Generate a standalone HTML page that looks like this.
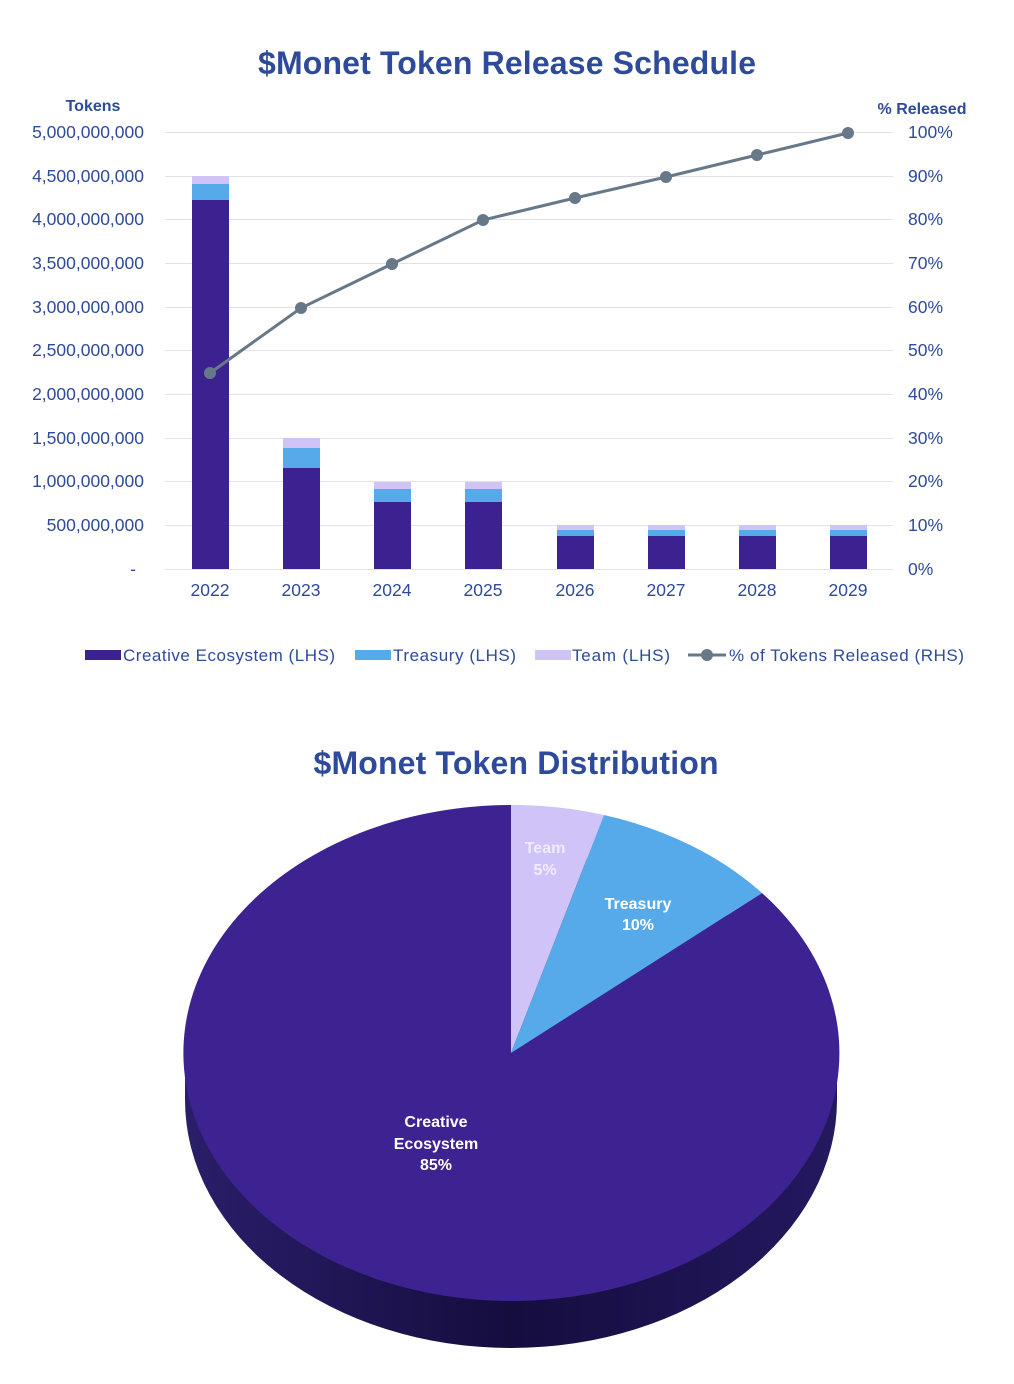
<!DOCTYPE html>
<html><head><style>body{margin:0;background:#fff}svg{display:block}text{font-family:"Liberation Sans",sans-serif}</style></head>
<body>
<svg width="1014" height="1384" viewBox="0 0 1014 1384">
<defs>
<linearGradient id="side" x1="0" x2="1" y1="0" y2="0"><stop offset="0" stop-color="#2a1e6a"/><stop offset="0.5" stop-color="#150d3e"/><stop offset="1" stop-color="#241860"/></linearGradient>
</defs>
<text x="507" y="74" text-anchor="middle" font-size="32" font-weight="bold" fill="#2e4a9a" textLength="498">$Monet Token Release Schedule</text>
<text x="93" y="111" text-anchor="middle" font-size="16" font-weight="bold" fill="#2e4a9a">Tokens</text>
<text x="922" y="114" text-anchor="middle" font-size="16" font-weight="bold" fill="#2e4a9a">% Released</text>
<g stroke="#e2e2e8" stroke-width="1">
<line x1="165" x2="893" y1="132.5" y2="132.5"/><line x1="165" x2="893" y1="176.5" y2="176.5"/><line x1="165" x2="893" y1="219.5" y2="219.5"/><line x1="165" x2="893" y1="263.5" y2="263.5"/><line x1="165" x2="893" y1="307.5" y2="307.5"/><line x1="165" x2="893" y1="350.5" y2="350.5"/><line x1="165" x2="893" y1="394.5" y2="394.5"/><line x1="165" x2="893" y1="438.5" y2="438.5"/><line x1="165" x2="893" y1="481.5" y2="481.5"/><line x1="165" x2="893" y1="525.5" y2="525.5"/><line x1="165" x2="893" y1="569.5" y2="569.5"/>
</g>
<g font-size="17.5" fill="#2e4a9a" text-anchor="end">
<text x="144" y="138">5,000,000,000</text><text x="144" y="182">4,500,000,000</text><text x="144" y="225">4,000,000,000</text><text x="144" y="269">3,500,000,000</text><text x="144" y="313">3,000,000,000</text><text x="144" y="356">2,500,000,000</text><text x="144" y="400">2,000,000,000</text><text x="144" y="444">1,500,000,000</text><text x="144" y="487">1,000,000,000</text><text x="144" y="531">500,000,000</text><text x="136" y="575">-</text>
</g>
<g font-size="17.5" fill="#2e4a9a">
<text x="908" y="138">100%</text><text x="908" y="182">90%</text><text x="908" y="225">80%</text><text x="908" y="269">70%</text><text x="908" y="313">60%</text><text x="908" y="356">50%</text><text x="908" y="400">40%</text><text x="908" y="444">30%</text><text x="908" y="487">20%</text><text x="908" y="531">10%</text><text x="908" y="575">0%</text>
</g>
<g>
<rect x="192" y="176" width="37" height="8" fill="#cfc3f7"/><rect x="192" y="184" width="37" height="16" fill="#56aaea"/><rect x="192" y="200" width="37" height="369" fill="#3c2290"/>
<rect x="283" y="438" width="37" height="10" fill="#cfc3f7"/><rect x="283" y="448" width="37" height="20" fill="#56aaea"/><rect x="283" y="468" width="37" height="101" fill="#3c2290"/>
<rect x="374" y="482" width="37" height="7" fill="#cfc3f7"/><rect x="374" y="489" width="37" height="13" fill="#56aaea"/><rect x="374" y="502" width="37" height="67" fill="#3c2290"/>
<rect x="465" y="482" width="37" height="7" fill="#cfc3f7"/><rect x="465" y="489" width="37" height="13" fill="#56aaea"/><rect x="465" y="502" width="37" height="67" fill="#3c2290"/>
<rect x="557" y="525" width="37" height="5" fill="#cfc3f7"/><rect x="557" y="530" width="37" height="6" fill="#56aaea"/><rect x="557" y="536" width="37" height="33" fill="#3c2290"/>
<rect x="648" y="525" width="37" height="5" fill="#cfc3f7"/><rect x="648" y="530" width="37" height="6" fill="#56aaea"/><rect x="648" y="536" width="37" height="33" fill="#3c2290"/>
<rect x="739" y="525" width="37" height="5" fill="#cfc3f7"/><rect x="739" y="530" width="37" height="6" fill="#56aaea"/><rect x="739" y="536" width="37" height="33" fill="#3c2290"/>
<rect x="830" y="525" width="37" height="5" fill="#cfc3f7"/><rect x="830" y="530" width="37" height="6" fill="#56aaea"/><rect x="830" y="536" width="37" height="33" fill="#3c2290"/>
</g>
<polyline points="210,373 301,308 392,264 483,220 575,198 666,177 757,155 848,133" fill="none" stroke="#677888" stroke-width="3"/>
<g fill="#677888"><circle cx="210" cy="373" r="6"/><circle cx="301" cy="308" r="6"/><circle cx="392" cy="264" r="6"/><circle cx="483" cy="220" r="6"/><circle cx="575" cy="198" r="6"/><circle cx="666" cy="177" r="6"/><circle cx="757" cy="155" r="6"/><circle cx="848" cy="133" r="6"/></g>
<g font-size="17.5" fill="#2e4a9a" text-anchor="middle">
<text x="210" y="596">2022</text><text x="301" y="596">2023</text><text x="392" y="596">2024</text><text x="483" y="596">2025</text><text x="575" y="596">2026</text><text x="666" y="596">2027</text><text x="757" y="596">2028</text><text x="848" y="596">2029</text>
</g>
<g font-size="17" fill="#2e4a9a">
<rect x="85" y="650" width="36" height="10" fill="#3c2290"/><text x="123" y="661" textLength="212">Creative Ecosystem (LHS)</text>
<rect x="355" y="650" width="36" height="10" fill="#56aaea"/><text x="393" y="661" textLength="123">Treasury (LHS)</text>
<rect x="535" y="650" width="36" height="10" fill="#cfc3f7"/><text x="572" y="661" textLength="98">Team (LHS)</text>
<line x1="688" x2="726" y1="655" y2="655" stroke="#677888" stroke-width="3"/><circle cx="707" cy="655" r="6" fill="#677888"/><text x="729" y="661" textLength="235">% of Tokens Released (RHS)</text>
</g>
<text x="516" y="774" text-anchor="middle" font-size="32" font-weight="bold" fill="#2e4a9a" textLength="405">$Monet Token Distribution</text>
<ellipse cx="511" cy="1100" rx="326" ry="248" fill="url(#side)"/>
<rect x="185" y="1053" width="652" height="47" fill="url(#side)"/>
<path d="M511,1053 L762,893 A328,248 0 1 1 511,805 Z" fill="#3d2391"/>
<path d="M511,1053 L511,805 A328,248 0 0 1 604,815 Z" fill="#cfc3f7"/>
<path d="M511,1053 L604,815 A328,248 0 0 1 762,893 Z" fill="#56aaea"/>
<g font-size="16" font-weight="bold" fill="#fff" text-anchor="middle">
<text x="545" y="853" fill="#f0ecff">Team</text><text x="545" y="875" fill="#f0ecff">5%</text>
<text x="638" y="909">Treasury</text><text x="638" y="930">10%</text>
<text x="436" y="1127">Creative</text><text x="436" y="1149">Ecosystem</text><text x="436" y="1170">85%</text>
</g>
</svg>
</body></html>
